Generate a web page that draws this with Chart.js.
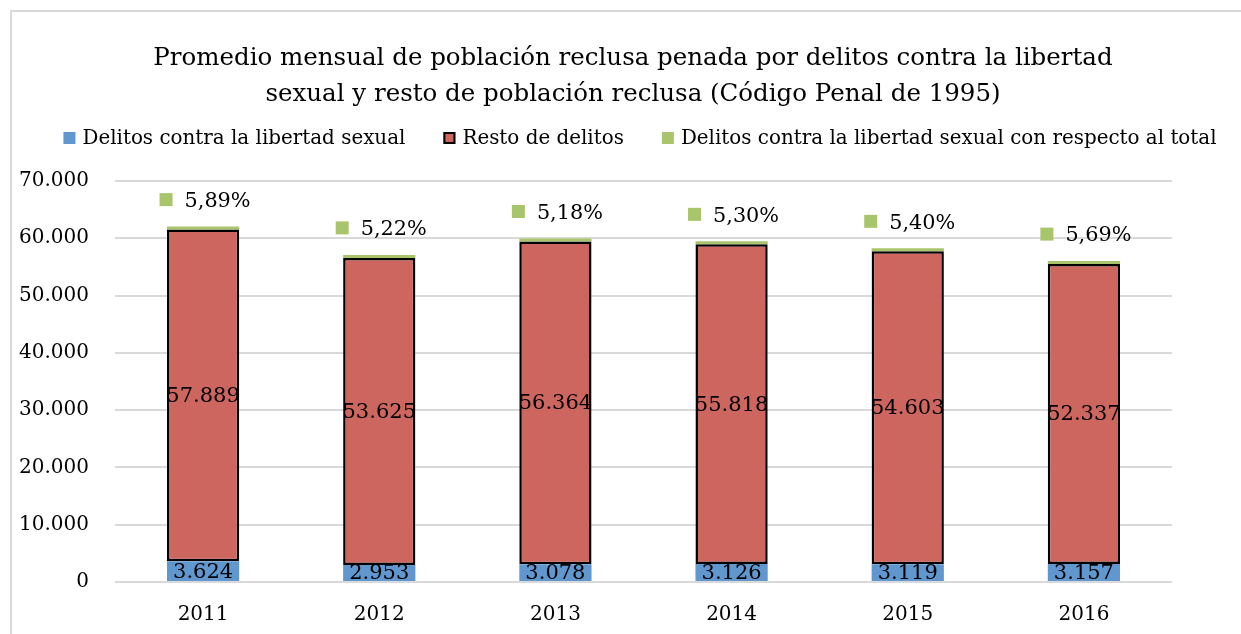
<!DOCTYPE html>
<html><head><meta charset="utf-8">
<script src="https://cdn.jsdelivr.net/npm/chart.js@4/dist/chart.umd.min.js"></script>
<style>html,body{margin:0;padding:0;background:#fff;overflow:hidden;width:1241px;height:634px}</style>
</head><body><canvas id="c" width="1266" height="634"></canvas>
<script>
const years = ['2011','2012','2013','2014','2015','2016'];
const sexualOffences = [3624, 2953, 3078, 3126, 3119, 3157];
const otherOffences = [57889, 53625, 56364, 55818, 54603, 52337];
const sexualShare = [5.89, 5.22, 5.18, 5.30, 5.40, 5.69];
const yTickLabels = ['0','10.000','20.000','30.000','40.000','50.000','60.000','70.000'];
const seriesNames = ['Delitos contra la libertad sexual','Resto de delitos','Delitos contra la libertad sexual con respecto al total'];
const titleLines = ['Promedio mensual de población reclusa penada por delitos contra la libertad','sexual y resto de población reclusa (Código Penal de 1995)'];

const FONT = 'DejaVu Serif';
const BLUE = '#5F97CE', RED = '#CD665F', GREEN = '#A9C56B';
const fmtInt = n => String(n).replace(/\B(?=(\d{3})+(?!\d))/g, '.');
const fmtPct = v => v.toFixed(2).replace('.', ',') + '%';

const framePlugin = {
  id: 'frame',
  beforeDraw(chart) {
    const ctx = chart.ctx;
    ctx.save();
    ctx.fillStyle = '#fff';
    ctx.fillRect(0, 0, chart.width, chart.height);
    ctx.strokeStyle = '#d9d9d9';
    ctx.lineWidth = 2;
    ctx.strokeRect(11, 11, 3000, 3000);
    ctx.restore();
  }
};

const legendPlugin = {
  id: 'customLegend',
  afterDraw(chart) {
    const ctx = chart.ctx;
    ctx.save();
    ctx.font = '19.9px "' + FONT + '"';
    ctx.textBaseline = 'middle';
    const box = 12, gap = 7, itemGap = 38, cy = 138;
    const items = chart.data.datasets.map(d => ({
      text: d.label, fill: d.backgroundColor,
      stroke: d.borderWidth ? d.borderColor : null,
      w: ctx.measureText(d.label).width
    }));
    const total = items.reduce((s, it) => s + box + gap + it.w, 0) + itemGap * (items.length - 1);
    let x = 640 - total / 2;
    items.forEach(it => {
      ctx.fillStyle = it.fill;
      ctx.fillRect(x, cy - box / 2, box, box);
      if (it.stroke) {
        ctx.strokeStyle = it.stroke; ctx.lineWidth = 2;
        ctx.strokeRect(x + 1, cy - box / 2 + 1, box - 2, box - 2);
      }
      ctx.fillStyle = '#000';
      ctx.textAlign = 'left';
      ctx.fillText(it.text, x + box + gap, cy + 1);
      x += box + gap + it.w + itemGap;
    });
    ctx.restore();
  }
};

const labelPlugin = {
  id: 'barLabels',
  afterDatasetsDraw(chart) {
    const ctx = chart.ctx;
    ctx.save();
    ctx.font = '21px "' + FONT + '"';
    ctx.fillStyle = '#000';
    ctx.textBaseline = 'middle';
    ctx.textAlign = 'center';
    [0, 1].forEach(di => {
      const meta = chart.getDatasetMeta(di);
      meta.data.forEach((el, i) => {
        const v = chart.data.datasets[di].data[i];
        ctx.fillText(fmtInt(v), el.x, (el.y + el.base) / 2 + 1);
      });
    });
    ctx.font = '20.8px "' + FONT + '"';
    const gMeta = chart.getDatasetMeta(2);
    gMeta.data.forEach((el, i) => {
      const txt = fmtPct(chart.data.datasets[2].data[i]);
      const tw = ctx.measureText(txt).width;
      const sq = 13, g = 12;
      const w = sq + g + tw;
      const x0 = el.x - w / 2 + 2;
      const cy = el.y - 26;
      ctx.fillStyle = GREEN;
      ctx.fillRect(x0, cy - sq / 2 - 1, sq, sq);
      ctx.fillStyle = '#000';
      ctx.textAlign = 'left';
      ctx.fillText(txt, x0 + sq + g, cy + 1);
    });
    ctx.restore();
  }
};

new Chart(document.getElementById('c'), {
  type: 'bar',
  data: {
    labels: years,
    datasets: [
      { label: seriesNames[0], data: sexualOffences, backgroundColor: BLUE, borderWidth: 0, stack: 's' },
      { label: seriesNames[1], data: otherOffences, backgroundColor: RED, borderColor: '#000', borderWidth: 2.5, borderSkipped: false, stack: 's' },
      { label: seriesNames[2], data: sexualShare, backgroundColor: GREEN, borderWidth: 0, minBarLength: 3, stack: 's' }
    ]
  },
  options: {
    responsive: false,
    animation: false,
    devicePixelRatio: 1,
    datasets: { bar: { barPercentage: 0.41, categoryPercentage: 1.0 } },
    layout: { padding: { left: 0, right: 0, top: 0, bottom: 0 } },
    plugins: {
      legend: { display: false },
      tooltip: { enabled: false },
      title: {
        display: true, text: titleLines, color: '#000',
        font: { family: FONT, size: 24.5, weight: 'normal', lineHeight: '36px' },
        padding: { top: 41, bottom: 68 }
      }
    },
    scales: {
      x: {
        stacked: true,
        grid: { display: false, drawTicks: false },
        border: { display: false },
        afterFit(scale) { scale.height = 52; },
        ticks: { color: '#000', padding: 21, font: { family: FONT, size: 20 } }
      },
      y: {
        stacked: true, min: 0, max: 70000,
        grid: { color: '#d9d9d9', lineWidth: 2, drawTicks: false },
        border: { display: false },
        afterFit(scale) { scale.width = 115; },
        ticks: {
          stepSize: 10000, color: '#000', padding: 26,
          font: { family: FONT, size: 20 },
          callback: (v, i) => yTickLabels[i]
        }
      },
      yRight: {
        position: 'right', display: true,
        grid: { display: false, drawTicks: false },
        border: { display: false },
        ticks: { display: false },
        afterFit(scale) { scale.width = 94; }
      }
    }
  },
  plugins: [framePlugin, legendPlugin, labelPlugin]
});
</script></body></html>
